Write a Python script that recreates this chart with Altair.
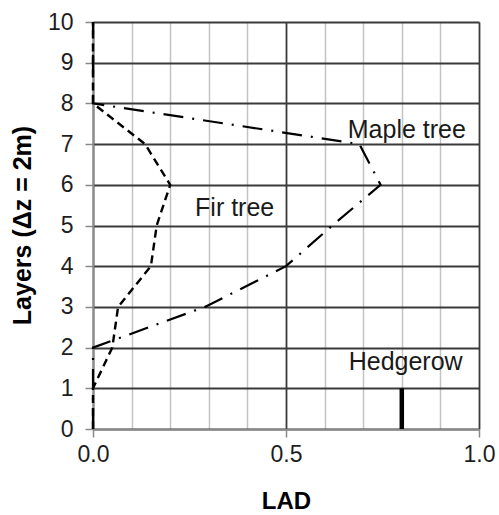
import altair as alt
import pandas as pd

# ---- data ----
layers = [0, 1, 2, 3, 4, 5, 6, 7, 8, 9, 10]
fir_lad = [0, 0, 0.05, 0.065, 0.15, 0.165, 0.2, 0.135, 0, 0, 0]
maple_lad = [0, 0, 0, 0.29, 0.5, 0.62, 0.745, 0.69, 0, 0, 0]
hedge_layers = [0, 1]
hedge_lad = [0.8, 0.8]

label_text = ["Maple tree", "Fir tree", "Hedgerow"]
label_x = [0.813, 0.367, 0.81]
label_y = [7.35, 5.43, 1.65]

x_ticks = [0.0, 0.1, 0.2, 0.3, 0.4, 0.5, 0.6, 0.7, 0.8, 0.9, 1.0]
y_ticks = [0, 1, 2, 3, 4, 5, 6, 7, 8, 9, 10]

fir_df = pd.DataFrame({"layer": layers, "lad": fir_lad})
maple_df = pd.DataFrame({"layer": layers, "lad": maple_lad})
hedge_df = pd.DataFrame({"layer": hedge_layers, "lad": hedge_lad})
label_df = pd.DataFrame({"text": label_text, "lad": label_x, "layer": label_y})

FONT = "Liberation Sans"
MAJOR = "datum.value == 0 || datum.value == 0.5 || datum.value == 1"

x_axis = alt.Axis(
    title="LAD",
    values=x_ticks,
    labelExpr=f"({MAJOR}) ? format(datum.value, '.1f') : ''",
    grid=True,
    gridColor={"condition": {"test": MAJOR, "value": "#3a3a3a"}, "value": "#c4c4c4"},
    gridWidth={"condition": {"test": MAJOR, "value": 1.8}, "value": 1.5},
    tickOpacity={"condition": {"test": MAJOR, "value": 1}, "value": 0},
    tickColor="#8a8a8a",
    tickSize=8,
    tickWidth=1.5,
    domainColor="#8a8a8a",
    domainWidth=1.5,
    labelFont=FONT,
    labelFontSize=23,
    labelColor="#1e1e1e",
    labelPadding=6,
    labelFlush=False,
    labelOverlap=False,
    titleFont=FONT,
    titleFontSize=24,
    titleFontWeight="bold",
    titleColor="#000000",
    titleBaseline="middle",
    titleY=72,
)

y_axis = alt.Axis(
    title="Layers (\u0394z = 2m)",
    values=y_ticks,
    grid=True,
    gridColor="#3a3a3a",
    gridWidth=1.8,
    tickColor="#8a8a8a",
    tickSize=8,
    tickWidth=1.5,
    domainColor="#8a8a8a",
    domainWidth=1.5,
    labelFont=FONT,
    labelFontSize=23,
    labelColor="#1e1e1e",
    labelPadding=12,
    labelFlush=False,
    labelOverlap=False,
    titleFont=FONT,
    titleFontSize=25,
    titleFontWeight="bold",
    titleColor="#000000",
    titleBaseline="middle",
    titleAngle=-90,
    titleX=-71,
    titleY=203,
)

xs = alt.Scale(domain=[0, 1], nice=False, zero=False)
ys = alt.Scale(domain=[0, 10], nice=False, zero=False)

X = alt.X("lad:Q", scale=xs, axis=x_axis)
Y = alt.Y("layer:Q", scale=ys, axis=y_axis)

fir = alt.Chart(fir_df).mark_line(
    color="#000000", strokeWidth=2.4, strokeDash=[8, 5], clip=False
).encode(x=X, y=Y, order="layer:Q")

maple = alt.Chart(maple_df).mark_line(
    color="#000000", strokeWidth=2.2, strokeDash=[20, 9, 2, 9], clip=False
).encode(x=X, y=Y, order="layer:Q")

hedge = alt.Chart(hedge_df).mark_line(
    color="#000000", strokeWidth=4.5, clip=False
).encode(x=X, y=Y, order="layer:Q")

labels = alt.Chart(label_df).mark_text(
    font=FONT, fontSize=25, color="#1a1a1a", align="center", baseline="middle"
).encode(x=X, y=Y, text="text:N")

chart = (
    alt.layer(fir, maple, hedge, labels)
    .properties(
        width=386,
        height=407,
        autosize=alt.AutoSizeParams(type="none"),
        padding={"left": 93, "top": 22, "right": 20, "bottom": 86},
        background="#ffffff",
    )
    .configure_view(stroke=None)
)

chart.save("out.html", embed_options={"renderer": "svg", "actions": False})
